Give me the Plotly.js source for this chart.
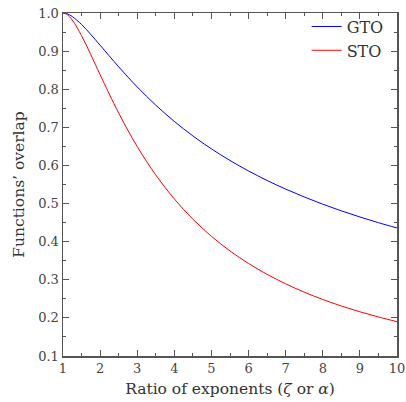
<!DOCTYPE html>
<html><head><meta charset="utf-8">
<script src="https://cdn.plot.ly/plotly-3.0.1.min.js"></script>
<style>body{margin:0;padding:0;background:#fff}#chart{width:406px;height:402px}</style>
</head><body><div id="chart"></div>
<script>
const ratio = [1, 1.1, 1.25, 1.5, 1.75, 2, 2.5, 3, 3.5, 4, 4.5, 5, 5.5, 6, 6.5, 7, 7.5, 8, 8.5, 9, 9.5, 10];
const gto = [1, 0.9983, 0.9907, 0.9698, 0.9437, 0.9155, 0.8588, 0.8059, 0.7582, 0.7155, 0.6775, 0.6435, 0.6130, 0.5855, 0.5606, 0.5379, 0.5173, 0.4983, 0.4809, 0.4648, 0.4498, 0.4360];
const sto = [1, 0.9966, 0.9815, 0.9406, 0.8905, 0.8381, 0.7376, 0.6495, 0.5749, 0.5120, 0.4590, 0.4141, 0.3757, 0.3428, 0.3143, 0.2894, 0.2676, 0.2483, 0.2312, 0.2160, 0.2024, 0.1901];
const seriesNames = ['GTO', 'STO'];
const xTicks = [1,2,3,4,5,6,7,8,9,10];
const yTicks = [0.1,0.2,0.3,0.4,0.5,0.6,0.7,0.8,0.9,1.0];

const font = 'DejaVu Serif';
const traces = [
  {x: ratio, y: gto, name: seriesNames[0], mode: 'lines', line: {color: '#0000ff', width: 1, shape: 'spline'}},
  {x: ratio, y: sto, name: seriesNames[1], mode: 'lines', line: {color: '#ff0000', width: 1, shape: 'spline'}}
];
const axisCommon = {
  showline: true, linecolor: '#555', linewidth: 1.5, mirror: 'allticks',
  ticks: 'inside', ticklen: 6, tickcolor: '#555', tickwidth: 1,
  showgrid: false, zeroline: false,
  tickfont: {family: font, size: 13, color: '#444'}
};
const layout = {
  width: 406, height: 402,
  margin: {l: 63, r: 9, t: 13, b: 46},
  paper_bgcolor: '#fff', plot_bgcolor: '#fff',
  font: {family: font, color: '#333'},
  showlegend: true,
  legend: {x: 0.975, y: 1.01, xanchor: 'right', yanchor: 'top', bgcolor: 'rgba(0,0,0,0)',
           font: {family: font, size: 16, color: '#333'}, tracegroupgap: 0},
  xaxis: Object.assign({}, axisCommon, {
    range: [1, 10], tickvals: xTicks, ticktext: xTicks.map(String),
    minor: {dtick: 0.5, ticks: 'inside', ticklen: 3, tickcolor: '#555'},
    title: {text: 'Ratio of exponents (<i>ζ</i> or <i>α</i>)', font: {family: font, size: 15.5, color: '#333'}, standoff: 8}
  }),
  yaxis: Object.assign({}, axisCommon, {
    range: [0.1, 1.0], tickvals: yTicks, ticktext: yTicks.map(v => v.toFixed(1)),
    minor: {dtick: 0.05, ticks: 'inside', ticklen: 3, tickcolor: '#555'},
    title: {text: 'Functions’ overlap', font: {family: font, size: 15.5, color: '#333'}, standoff: 10}
  })
};
Plotly.newPlot('chart', traces, layout, {displayModeBar: false, staticPlot: true});
</script></body></html>
